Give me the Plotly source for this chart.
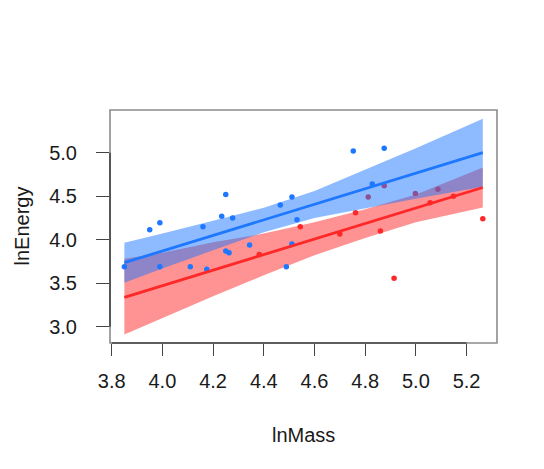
import plotly.graph_objects as go

# ---- data ----
blue_x = [3.85, 3.95, 3.99, 3.99, 4.11, 4.16, 4.175, 4.234, 4.25, 4.25, 4.263,
          4.277, 4.344, 4.465, 4.489, 4.511, 4.511, 4.531, 4.753, 4.875, 4.828]
blue_y = [3.69, 4.115, 4.195, 3.69, 3.69, 4.15, 3.66, 4.27, 4.52, 3.87, 3.85,
          4.25, 3.94, 4.40, 3.69, 4.49, 3.95, 4.23, 5.02, 5.05, 4.64]

red_x = [4.382, 4.544, 4.70, 4.762, 4.812, 4.86, 4.875, 4.914, 4.998, 5.056,
         5.087, 5.148, 5.264]
red_y = [3.83, 4.15, 4.065, 4.31, 4.49, 4.10, 4.62, 3.556, 4.53, 4.425,
         4.58, 4.50, 4.24]

band_x = [3.85, 4.0, 4.2, 4.4, 4.6, 4.8, 5.0, 5.264]
blue_upper = [3.966, 4.07, 4.218, 4.366, 4.559, 4.803, 5.051, 5.39]
blue_lower = [3.506, 3.67, 3.878, 4.086, 4.249, 4.363, 4.471, 4.61]
red_upper = [3.78, 3.85, 3.97, 4.07, 4.20, 4.35, 4.52, 4.83]
red_lower = [2.91, 3.10, 3.35, 3.59, 3.82, 4.02, 4.20, 4.37]

fit_x = [3.85, 5.264]
blue_fit = [3.736, 5.0]
red_fit = [3.338, 4.60]

x_ticks = [3.8, 4.0, 4.2, 4.4, 4.6, 4.8, 5.0, 5.2]
y_ticks = [3.0, 3.5, 4.0, 4.5, 5.0]
x_title = "lnMass"
y_title = "lnEnergy"

BLUE = "rgb(30,120,255)"
RED = "rgb(255,40,40)"
BLUE_BAND = "rgba(30,120,255,0.5)"
RED_BAND = "rgba(255,40,40,0.5)"
FONT = "Liberation Sans, Arial, sans-serif"
TXT = "#1a1a1a"

fig = go.Figure()

# red band
fig.add_trace(go.Scatter(x=band_x, y=red_lower, mode="lines",
                         line=dict(width=0), hoverinfo="skip", showlegend=False))
fig.add_trace(go.Scatter(x=band_x, y=red_upper, mode="lines", fill="tonexty",
                         fillcolor=RED_BAND, line=dict(width=0),
                         hoverinfo="skip", showlegend=False))
# red points
fig.add_trace(go.Scatter(x=red_x, y=red_y, mode="markers",
                         marker=dict(color=RED, size=5.5), showlegend=False))
# blue band
fig.add_trace(go.Scatter(x=band_x, y=blue_lower, mode="lines",
                         line=dict(width=0), hoverinfo="skip", showlegend=False))
fig.add_trace(go.Scatter(x=band_x, y=blue_upper, mode="lines", fill="tonexty",
                         fillcolor=BLUE_BAND, line=dict(width=0),
                         hoverinfo="skip", showlegend=False))
# blue points
fig.add_trace(go.Scatter(x=blue_x, y=blue_y, mode="markers",
                         marker=dict(color=BLUE, size=5.5), showlegend=False))
# fitted lines
fig.add_trace(go.Scatter(x=fit_x, y=red_fit, mode="lines",
                         line=dict(color=RED, width=2.8), showlegend=False))
fig.add_trace(go.Scatter(x=fit_x, y=blue_fit, mode="lines",
                         line=dict(color=BLUE, width=2.8), showlegend=False))

fig.update_xaxes(range=[3.7933, 5.320], tickvals=x_ticks,
                 ticktext=[f"{v:.1f}" for v in x_ticks],
                 ticks="outside", ticklen=12, tickwidth=1.3, tickcolor="#444",
                 showgrid=False, zeroline=False, showline=False,
                 tickfont=dict(family=FONT, size=20, color=TXT),
                 ticklabelstandoff=8)
fig.update_yaxes(range=[2.8126, 5.491], tickvals=y_ticks,
                 ticktext=[f"{v:.1f}" for v in y_ticks],
                 ticks="outside", ticklen=13, tickwidth=1.3, tickcolor="#444",
                 showgrid=False, zeroline=False, showline=False,
                 tickfont=dict(family=FONT, size=20, color=TXT),
                 ticklabelstandoff=15)

shapes = [
    dict(type="rect", xref="paper", yref="paper", x0=0, x1=1, y0=0, y1=1,
         line=dict(color="#8c8c8c", width=1.6), layer="above"),
    dict(type="line", xref="x", yref="paper", x0=x_ticks[0], x1=x_ticks[-1],
         y0=0, y1=0, line=dict(color="#444", width=1.6), layer="above"),
    dict(type="line", xref="paper", yref="y", x0=0, x1=0,
         y0=y_ticks[0], y1=y_ticks[-1], line=dict(color="#444", width=1.6),
         layer="above"),
]

annotations = [
    dict(text=x_title, xref="paper", yref="paper", x=0.5, y=0,
         xanchor="center", yanchor="middle", yshift=-92, showarrow=False,
         font=dict(family=FONT, size=20, color=TXT)),
    dict(text=y_title, xref="paper", yref="paper", x=0, y=0.5,
         xanchor="center", yanchor="middle", xshift=-89, textangle=-90,
         showarrow=False, font=dict(family=FONT, size=20, color=TXT)),
]

fig.update_layout(width=544, height=469,
                  margin=dict(l=110, r=47, t=110, b=126),
                  paper_bgcolor="white", plot_bgcolor="white",
                  shapes=shapes, annotations=annotations)

fig.write_html("out.html")
